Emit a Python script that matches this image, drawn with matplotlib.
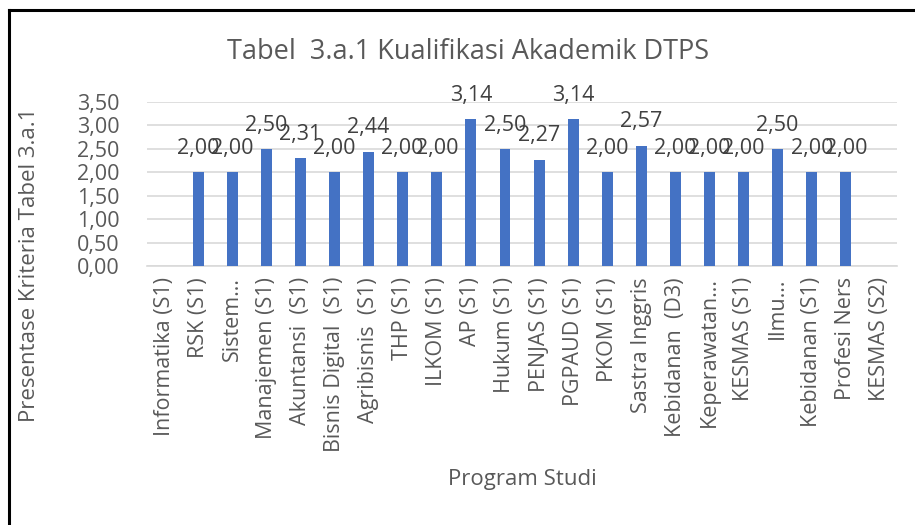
import numpy as np
import matplotlib
matplotlib.use("Agg")
import matplotlib.pyplot as plt
from matplotlib.lines import Line2D

plt.rcParams['font.family'] = ['Open Sans', 'DejaVu Sans']

prodi = ['Informatika (S1)', 'RSK (S1)', 'Sistem\u2026', 'Manajemen (S1)', 'Akuntansi  (S1)',
         'Bisnis Digital  (S1)', 'Agribisnis  (S1)', 'THP (S1)', 'ILKOM (S1)', 'AP (S1)',
         'Hukum (S1)', 'PENJAS (S1)', 'PGPAUD (S1)', 'PKOM (S1)', 'Sastra Inggris',
         'Kebidanan  (D3)', 'Keperawatan\u2026', 'KESMAS (S1)', 'Ilmu\u2026', 'Kebidanan (S1)',
         'Profesi Ners', 'KESMAS (S2)']
nilai = [np.nan, 2.00, 2.00, 2.50, 2.31, 2.00, 2.44, 2.00, 2.00, 3.14, 2.50, 2.27,
         3.14, 2.00, 2.57, 2.00, 2.00, 2.00, 2.50, 2.00, 2.00, np.nan]
yticks = [0, 0.5, 1.0, 1.5, 2.0, 2.5, 3.0, 3.5]

teks = '#595959'
fig = plt.figure(figsize=(9.15, 5.25), dpi=100)
ax = fig.add_axes([147/915, 1-266/525, 750/915, 164/525])

x = np.arange(len(prodi))
ax.bar(x, nilai, width=0.32, color='#4472C4', zorder=3)
for xi, v in zip(x, nilai):
    if np.isnan(v):
        continue
    ax.annotate(f'{v:.2f}'.replace('.', ','), (xi, v), xytext=(0, 9.5),
                textcoords='offset points', ha='center', va='bottom',
                fontsize=15.5, color='#404040', zorder=4)

ax.set_xlim(-0.5, len(prodi) - 0.5)
ax.set_ylim(0, 3.5)
ax.set_yticks(yticks)
ax.set_yticklabels([f'{t:.2f}'.replace('.', ',') for t in yticks])
ax.set_xticks(x)
ax.set_xticklabels(prodi, rotation=90)
ax.tick_params(axis='both', length=0, labelsize=15.5, labelcolor=teks)
ax.tick_params(axis='y', pad=20)
ax.tick_params(axis='x', pad=8)
ax.grid(axis='y', color='#D9D9D9', linewidth=1.2, zorder=0)
for s in ['top', 'right', 'left']:
    ax.spines[s].set_visible(False)
ax.spines['bottom'].set_color('#D9D9D9')
ax.spines['bottom'].set_linewidth(1.2)

fig.text(468/915, 1-52/525, 'Tabel  3.a.1 Kualifikasi Akademik DTPS', ha='center',
         va='center', fontsize=19.5, color=teks)
fig.text(30/915, 1-265/525, 'Presentase Kriteria Tabel 3.a.1', rotation=90, ha='center',
         va='center', fontsize=16, color=teks)
fig.text(522/915, 1-480/525, 'Program Studi', ha='center', va='center',
         fontsize=16, color=teks)

# bingkai
fig.add_artist(Line2D([9/915, 9/915], [0, 1-10/525], color='black', linewidth=2.2,
                      transform=fig.transFigure))
fig.add_artist(Line2D([9/915, 1], [1-10/525, 1-10/525], color='black', linewidth=2.2,
                      transform=fig.transFigure))

fig.savefig('out.png', dpi=100, facecolor='white')
